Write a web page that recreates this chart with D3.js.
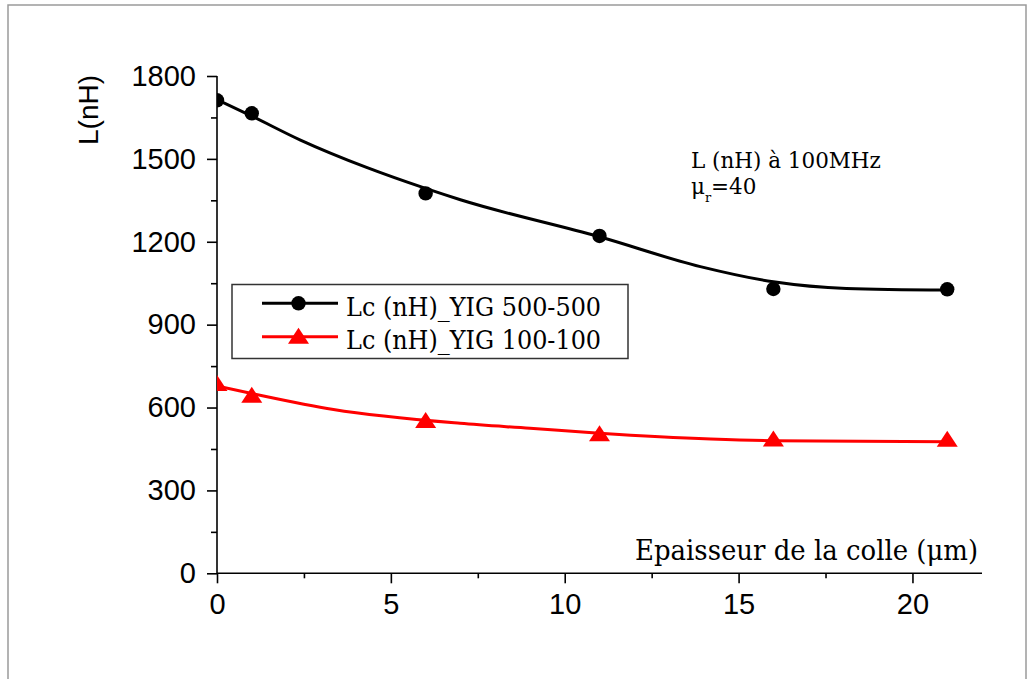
<!DOCTYPE html>
<html><head><meta charset="utf-8">
<script src="https://cdn.jsdelivr.net/npm/d3@7"></script>
<style>html,body{margin:0;padding:0;background:#fff;}svg{display:block;}</style>
</head><body>
<svg id="c" width="1029" height="679"></svg>
<script>
// ---- data ----
const xPoints = [0, 1, 6, 11, 16, 21];
const yig500 = [1712, 1665, 1375, 1221, 1029, 1028];
const yig100 = [689, 646, 555, 507, 488, 487];
// fitted curves
const fitX500 = [0, 1, 2.4, 4.3, 6, 7, 11, 13.9, 16, 18.1, 21];
const fit500 = [1715, 1655, 1568, 1469, 1393, 1352, 1218, 1110, 1055, 1031, 1025];
const fitX100 = [0, 1, 3.35, 6.99, 9, 11, 14.2, 16, 21];
const fit100 = [678, 651, 593, 543, 525, 507, 486, 480, 476];
const xTicks = [0, 5, 10, 15, 20];
const xMinor = [2.5, 7.5, 12.5, 17.5];
const yTicks = [0, 300, 600, 900, 1200, 1500, 1800];
const yMinor = [150, 450, 750, 1050, 1350, 1650];
const seriesNames = ["Lc (nH)_YIG 500-500", "Lc (nH)_YIG 100-100"];
const xTitle = "Epaisseur de la colle (μm)";
const yTitle = "L(nH)";

const svg = d3.select("#c");
const X0 = 217, X1 = 982, Y0 = 573.3, Y1 = 76;
const x = d3.scaleLinear().domain([0, 22]).range([X0, X1]);
const y = d3.scaleLinear().domain([0, 1800]).range([Y0, Y1]);
const sans = "'Liberation Sans', Arial, sans-serif";
const serif = "'DejaVu Serif', serif";

// outer frame
svg.append("rect").attr("x", 8).attr("y", 5).attr("width", 1018).attr("height", 700)
  .attr("fill", "none").attr("stroke", "#9a9a9a").attr("stroke-width", 1.5);

// axes
const yAxis = d3.axisLeft(y).tickValues(yTicks).tickSize(10).tickPadding(11).tickFormat(d3.format("d"));
const gy = svg.append("g").attr("transform", `translate(${X0},0)`).call(yAxis);
svg.append("g").attr("transform", `translate(${X0},0)`)
  .call(d3.axisLeft(y).tickValues(yMinor).tickSize(6).tickFormat(""))
  .select(".domain").remove();
const xAxis = d3.axisBottom(x).tickValues(xTicks).tickSize(10).tickPadding(10);
const gx = svg.append("g").attr("transform", `translate(0,${Y0})`).call(xAxis);
svg.append("g").attr("transform", `translate(0,${Y0})`)
  .call(d3.axisBottom(x).tickValues(xMinor).tickSize(5).tickFormat(""))
  .select(".domain").remove();
svg.selectAll(".domain").attr("stroke", "#000").attr("stroke-width", 1.6);
svg.selectAll(".tick line").attr("stroke", "#000").attr("stroke-width", 1.6);
svg.selectAll(".tick text").attr("font-family", sans).attr("font-size", 29).attr("fill", "#000");
gx.selectAll(".tick text").attr("dy", "0.71em");
gy.select(".domain").attr("d", `M0,${Y0}V${Y1}`);
gx.select(".domain").attr("d", `M${X0},0H${X1}`);

// clip
svg.append("clipPath").attr("id", "clip").append("rect")
  .attr("x", X0).attr("y", 0).attr("width", 1000 - X0).attr("height", Y0);
const plot = svg.append("g").attr("clip-path", "url(#clip)");

const line = d3.line().x(d => x(d[0])).y(d => y(d[1])).curve(d3.curveMonotoneX);
plot.append("path").datum(fitX100.map((v, i) => [v, fit100[i]]))
  .attr("d", line).attr("fill", "none").attr("stroke", "#ff0000").attr("stroke-width", 3);
plot.append("path").datum(fitX500.map((v, i) => [v, fit500[i]]))
  .attr("d", line).attr("fill", "none").attr("stroke", "#000").attr("stroke-width", 3);

const tri = (w, h) => `M0,${-h/2}L${w/2},${h/2}L${-w/2},${h/2}Z`;
plot.selectAll(".c").data(xPoints.map((v, i) => [v, yig500[i]])).enter().append("circle")
  .attr("cx", d => x(d[0])).attr("cy", d => y(d[1])).attr("r", 7.2).attr("fill", "#000");
plot.selectAll(".t").data(xPoints.map((v, i) => [v, yig100[i]])).enter().append("path")
  .attr("transform", d => `translate(${x(d[0])},${y(d[1])})`).attr("d", tri(21, 16)).attr("fill", "#ff0000");

// helper: fit text width, with a slight vertical stretch
function serifText(px, py, str, w, fs, vs) {
  const g = svg.append("g").attr("transform", `translate(${px},${py}) scale(1,${vs})`);
  const t = g.append("text").attr("x", 0).attr("y", 0).attr("font-family", serif)
    .attr("font-size", fs).attr("fill", "#000").text(str);
  const cw = t.node().getComputedTextLength();
  t.attr("font-size", fs * w / cw);
  return t;
}

// legend
svg.append("rect").attr("x", 232).attr("y", 284.5).attr("width", 396).attr("height", 74)
  .attr("fill", "#fff").attr("stroke", "#333").attr("stroke-width", 1.5);
const legY = [303.3, 336.7];
const legBase = [315.5, 348.8];
seriesNames.forEach((name, i) => {
  const col = i === 0 ? "#000" : "#ff0000";
  svg.append("line").attr("x1", 262).attr("x2", 338).attr("y1", legY[i]).attr("y2", legY[i])
    .attr("stroke", col).attr("stroke-width", 3);
  if (i === 0) svg.append("circle").attr("cx", 298.5).attr("cy", legY[i]).attr("r", 7.2).attr("fill", col);
  else svg.append("path").attr("transform", `translate(298.5,${legY[i] - 1})`).attr("d", tri(21, 16)).attr("fill", col);
  serifText(346, legBase[i], name, 255, 22, 1.08);
});

// annotation
const a1 = serifText(691, 167.5, "L (nH) à 100MHz", 190, 18, 1);
const fsA = +a1.attr("font-size");
const a2 = svg.append("text").attr("x", 691).attr("y", 194).attr("font-family", serif)
  .attr("font-size", fsA).attr("fill", "#000");
a2.append("tspan").text("μ");
a2.append("tspan").attr("font-size", fsA * 0.6).attr("dy", 8).text("r");
a2.append("tspan").attr("dy", -8).text("=40");

// axis titles
serifText(635, 559.5, xTitle, 343, 22, 1.08);
svg.append("text").attr("transform", "translate(98,110) rotate(-90)").attr("text-anchor", "middle")
  .attr("font-family", sans).attr("font-size", 28).attr("fill", "#000").text(yTitle);
</script>
</body></html>
